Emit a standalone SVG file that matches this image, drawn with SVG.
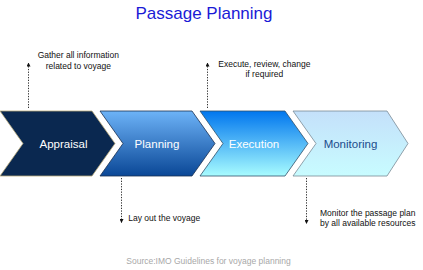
<svg xmlns="http://www.w3.org/2000/svg" width="423" height="270" viewBox="0 0 423 270">
<style>
.lbl{font-family:"Liberation Sans",Arial,sans-serif;font-size:11.5px;text-anchor:middle}
.note{font-family:"Liberation Sans",Arial,sans-serif;font-size:8.5px;fill:#111}
.conn{stroke:#333;stroke-width:1;stroke-dasharray:1.3 1.4;fill:none}
</style>
<defs>
<linearGradient id="gPlan" x1="0" y1="0" x2="0" y2="1">
<stop offset="0" stop-color="#6db3f8"/><stop offset="1" stop-color="#0a4796"/>
</linearGradient>
<linearGradient id="gExec" x1="0" y1="0" x2="0" y2="1">
<stop offset="0" stop-color="#0076ee"/><stop offset="1" stop-color="#a8fcff"/>
</linearGradient>
<linearGradient id="gMon" x1="0" y1="0" x2="0" y2="1">
<stop offset="0" stop-color="#c4e0fa"/><stop offset="1" stop-color="#c8fcff"/>
</linearGradient>
<marker id="arr" viewBox="0 0 4 4" refX="4" refY="2" markerWidth="4" markerHeight="4" markerUnits="userSpaceOnUse" orient="auto">
<path d="M0,0 L4,2 L0,4 Z" fill="#111"/>
</marker>
</defs>
<rect width="423" height="270" fill="#fff"/>
<text x="204" y="18.5" font-family="Liberation Sans, Arial, sans-serif" font-size="17" fill="#1a1ad6" text-anchor="middle">Passage Planning</text>

<g id="appraisal">
<path d="M0,111 L92,111 L115,143.5 L92,176 L0,176 L23,143.5 Z" fill="#0a2850" stroke="#b8a878" stroke-width="0.8"/>
<text class="lbl" x="63.5" y="147.5" fill="#fff">Appraisal</text>
</g>
<g id="planning">
<path d="M100,111 L192,111 L215,143.5 L192,176 L100,176 L123,143.5 Z" fill="url(#gPlan)" stroke="#1a3050" stroke-width="0.8"/>
<text class="lbl" x="157" y="147.5" fill="#fff">Planning</text>
</g>
<g id="execution">
<path d="M200,111 L285,111 L308,143.5 L285,176 L200,176 L223,143.5 Z" fill="url(#gExec)" stroke="#30506a" stroke-width="0.8"/>
<text class="lbl" x="254" y="147.5" fill="#fff">Execution</text>
</g>
<g id="monitoring">
<path d="M293,111 L387,111 L408,143.5 L387,176 L293,176 L316,143.5 Z" fill="url(#gMon)" stroke="#7a8a96" stroke-width="0.8"/>
<text class="lbl" x="350.5" y="147.5" fill="#1c4c8c">Monitoring</text>
</g>

<g id="connectors">
<line class="conn" x1="28.5" y1="108" x2="28.5" y2="62.5" marker-end="url(#arr)"/>
<line class="conn" x1="207.5" y1="108" x2="207.5" y2="62.5" marker-end="url(#arr)"/>
<line class="conn" x1="121.5" y1="178" x2="121.5" y2="223" marker-end="url(#arr)"/>
<line class="conn" x1="306.5" y1="178" x2="306.5" y2="224" marker-end="url(#arr)"/>
</g>

<g id="notes">
<text class="note" x="78.3" y="58.3" text-anchor="middle">Gather all information</text>
<text class="note" x="78.3" y="69" text-anchor="middle">related to voyage</text>
<text class="note" x="264.4" y="66.7" text-anchor="middle">Execute, review, change</text>
<text class="note" x="264.4" y="76.7" text-anchor="middle">if required</text>
<text class="note" x="128.3" y="221">Lay out the voyage</text>
<text class="note" x="320" y="216">Monitor the passage plan</text>
<text class="note" x="320" y="226">by all available resources</text>
<text class="note" x="208.5" y="263.5" text-anchor="middle" style="fill:#a8a8a8">Source:IMO Guidelines for voyage planning</text>
</g>
</svg>
